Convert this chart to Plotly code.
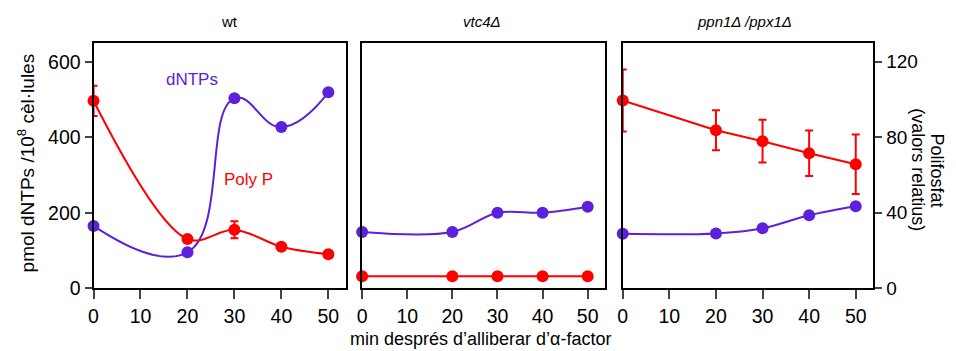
import plotly.graph_objects as go

minutes = [0, 20, 30, 40, 50]
x_ticks = [0, 10, 20, 30, 40, 50]
panel_titles = ["wt", "<i>vtc4Δ</i>", "<i>ppn1Δ /ppx1Δ</i>"]

# dNTPs (pmol / 10^8 cells)
dntp_wt = [165, 95, 503, 427, 519]
dntp_vtc4 = [149, 149, 200, 200, 216]
dntp_ppn = [144, 145, 159, 193, 217]

# Poly P (relative values)
polyp_wt = [99.3, 26, 31, 22, 18]
polyp_wt_err = [8, 1.5, 4.5, 1.5, 1]
polyp_vtc4 = [6.3, 6.3, 6.3, 6.3, 6.3]
polyp_ppn = [99.5, 83.7, 77.9, 71.5, 65.7]
polyp_ppn_err = [16.4, 10.6, 11.3, 12, 15.8]

left_ticks = [0, 200, 400, 600]
right_ticks = [0, 40, 80, 120]

PURPLE = "#5B21DB"
RED = "#FF0000"
FONT = "Liberation Sans, Arial, sans-serif"

fig = go.Figure()

# the page shows the paper 10 px shorter than the requested height
W, H = 956, 361
H_EFF = 351
doms = [(89, 343), (359, 603), (621, 873)]
ydom = [1 - 289 / H_EFF, 1 - 43 / H_EFF]

dntps = [dntp_wt, dntp_vtc4, dntp_ppn]
polys = [polyp_wt, polyp_vtc4, polyp_ppn]
errs = [polyp_wt_err, None, polyp_ppn_err]
poly_shape = ["spline", "spline", "linear"]
dntp_smooth = [1.3, 1.0, 1.0]

for i in range(3):
    xa = "x" if i == 0 else f"x{i+1}"
    ya1 = "y" if i == 0 else f"y{2*i+1}"
    ya2 = f"y{2*i+2}"
    fig.add_trace(go.Scatter(
        x=minutes, y=dntps[i], xaxis=xa, yaxis=ya1, mode="lines+markers",
        line=dict(color=PURPLE, width=2, shape="spline", smoothing=dntp_smooth[i]),
        marker=dict(color=PURPLE, size=12), showlegend=False, cliponaxis=False))
    err = None
    if errs[i] is not None:
        err = dict(type="data", array=errs[i], visible=True, color=RED,
                   thickness=2, width=4)
    fig.add_trace(go.Scatter(
        x=minutes, y=polys[i], xaxis=xa, yaxis=ya2, mode="lines+markers",
        line=dict(color=RED, width=2, shape=poly_shape[i], smoothing=1),
        marker=dict(color=RED, size=12), error_y=err, showlegend=False,
        cliponaxis=False))

layout = dict(
    width=W, height=H, margin=dict(l=0, r=0, t=0, b=0, pad=0),
    paper_bgcolor="white", plot_bgcolor="white",
    font=dict(family=FONT, size=19, color="black"),
)

for i in range(3):
    xk = "xaxis" if i == 0 else f"xaxis{i+1}"
    y1k = "yaxis" if i == 0 else f"yaxis{2*i+1}"
    y2k = f"yaxis{2*i+2}"
    y1ref = "y" if i == 0 else f"y{2*i+1}"
    xref = "x" if i == 0 else f"x{i+1}"
    layout[xk] = dict(
        domain=[doms[i][0] / W, doms[i][1] / W], anchor=y1ref,
        range=[0, 53.8], tickvals=x_ticks, ticks="outside", ticklen=9,
        tickwidth=2, showline=True, linewidth=2, linecolor="black",
        mirror=True, showgrid=False, zeroline=False,
        tickfont=dict(size=19.5))
    layout[y1k] = dict(
        domain=ydom, anchor=xref, range=[0, 650], tickvals=left_ticks,
        ticks="outside" if i == 0 else "", ticklen=7, tickwidth=2,
        showticklabels=(i == 0), showline=True, linewidth=2,
        linecolor="black", mirror=True, showgrid=False, zeroline=False,
        tickfont=dict(size=19.5))
    layout[y2k] = dict(
        overlaying=y1ref, anchor=xref, side="right", range=[0, 130],
        tickvals=right_ticks, ticks="outside" if i == 2 else "",
        ticklen=7, tickwidth=2, showticklabels=(i == 2),
        showline=(i == 2), linewidth=2, linecolor="black",
        showgrid=False, zeroline=False, tickfont=dict(size=19))

fig.update_layout(**layout)


def py(px):
    return 1 - px / H_EFF


ann = []
title_x = [226, 480, 743]
for i, t in enumerate(panel_titles):
    ann.append(dict(text=t, x=title_x[i] / W, y=py(22), xref="paper",
                    yref="paper", showarrow=False, font=dict(size=15),
                    xanchor="center", yanchor="middle"))
ann.append(dict(text="pmol dNTPs /10<sup>8</sup> cèl·lules", x=21 / W,
                y=py(163), xref="paper", yref="paper", showarrow=False,
                textangle=-90, font=dict(size=19), xanchor="center",
                yanchor="middle"))
ann.append(dict(text="min després d’alliberar d’α-factor", x=478 / W,
                y=py(340), xref="paper", yref="paper", showarrow=False,
                font=dict(size=18), xanchor="center", yanchor="middle"))
ann.append(dict(text="Polifosfat", x=937 / W, y=py(171), xref="paper",
                yref="paper", showarrow=False, textangle=90,
                font=dict(size=18), xanchor="center", yanchor="middle"))
ann.append(dict(text="(valors relatius)", x=918 / W, y=py(170),
                xref="paper", yref="paper", showarrow=False, textangle=90,
                font=dict(size=18), xanchor="center", yanchor="middle"))
ann.append(dict(text="dNTPs", x=20.9, y=554, xref="x", yref="y",
                showarrow=False, font=dict(size=17, color=PURPLE),
                xanchor="center", yanchor="middle"))
ann.append(dict(text="Poly P", x=32.9, y=288, xref="x", yref="y",
                showarrow=False, font=dict(size=17, color=RED),
                xanchor="center", yanchor="middle"))
fig.update_layout(annotations=ann)

fig.write_html("out.html")
